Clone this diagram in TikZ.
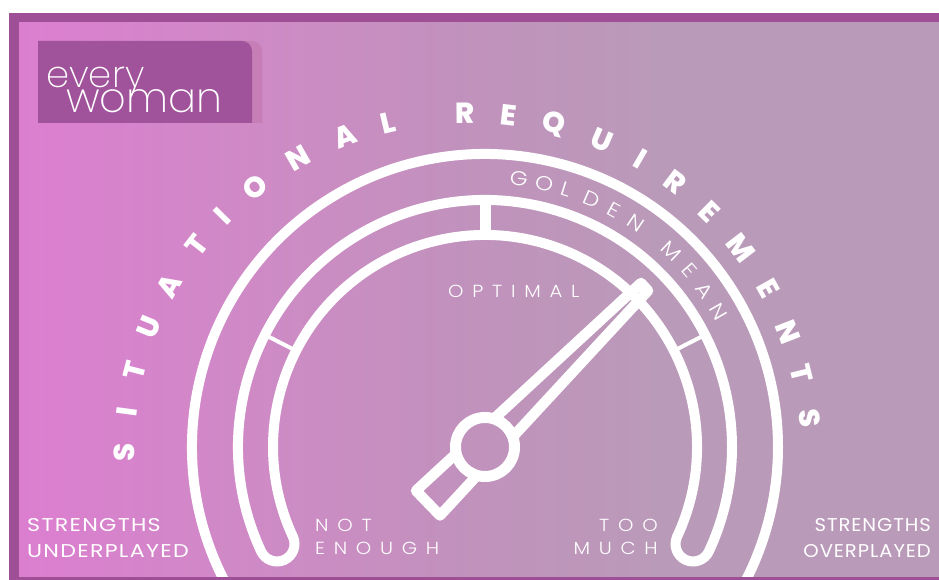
\documentclass[tikz,border=0pt]{standalone}
\usepackage{fontspec}
\setmainfont{Poppins ExtraBold}
\newfontfamily\thinfont{Poppins ExtraLight}
\newfontfamily\plainfont{Poppins}[FakeStretch=1.2,LetterSpace=7]
\newfontfamily\narrowfont{Poppins}[FakeStretch=1.06,LetterSpace=5]
\newfontfamily\widefont{Poppins Light}[FakeStretch=1.12,LetterSpace=50]
\newfontfamily\archfont{Poppins Light}[FakeStretch=1.15]
\usetikzlibrary{positioning}
\definecolor{framepurple}{RGB}{158,79,150}
\definecolor{logopurple}{RGB}{160,83,155}
\definecolor{logoband}{RGB}{199,126,182}
\definecolor{gradleft}{RGB}{220,126,208}
\definecolor{gradquart}{RGB}{207,138,198}
\definecolor{gradmid}{RGB}{192,146,188}
\definecolor{gradright}{RGB}{186,154,185}
\pgfdeclarehorizontalshading{backgrad}{100bp}{color(0bp)=(gradleft); color(25bp)=(gradleft); color(37.5bp)=(gradquart); color(50bp)=(gradmid); color(60bp)=(gradright); color(100bp)=(gradright)}
\tikzset{
  gaugeline/.style={draw=white, line width=10pt},
  tagtext/.style={text=white, inner sep=0pt, font=\fontsize{18.5}{20}\selectfont\plainfont},
  tagright/.style={text=white, inner sep=0pt, font=\fontsize{18.5}{20}\selectfont\narrowfont},
  widetext/.style={text=white, inner sep=0pt, font=\fontsize{17.5}{18}\selectfont\widefont},
  archeavy/.style={text=white, inner sep=0pt, font=\fontsize{29}{29}\selectfont},
  arclight/.style={text=white, inner sep=0pt, font=\fontsize{20}{20}\selectfont\archfont}
}
\begin{document}
\begin{tikzpicture}[x=1pt,y=1pt]
\useasboundingbox (0,0) rectangle (939,580);
\fill[framepurple] (9,0) rectangle (939,567);
\shade[shading=backgrad] (19,3) rectangle (939,557);
% logo
\fill[logoband] (200,457) -- (262,457) [rounded corners=10pt] -- (262,539) [sharp corners] -- (200,539) -- cycle;
\fill[logopurple] (38,457) -- (252,457) [rounded corners=10pt] -- (252,539) [sharp corners] -- (38,539) -- cycle;
\node[text=white, inner sep=0pt, anchor=base west, font=\fontsize{37}{37}\selectfont\thinfont] (every) at (46,492) {every};
\node[text=white, inner sep=0pt, anchor=base west, font=\fontsize{41.5}{41.5}\selectfont\thinfont] (woman) at (66,467) {woman};
% gauge
\coordinate (hubc) at (485,133);
\coordinate (arcc) at (468,123);
\begin{scope}
\clip (19,3) rectangle (939,557);
\draw[gaugeline] ([shift={(210:293)}]hubc) arc[start angle=210, end angle=-30, radius=293];
\draw[gaugeline] ([shift={(205:247)}]hubc) arc[start angle=205, end angle=-25, radius=247]
  arc[start angle=-25, end angle=-205, radius=17.5]
  arc[start angle=-25, end angle=205, radius=212]
  arc[start angle=25, end angle=-155, radius=17.5] -- cycle;
\end{scope}
\draw[draw=white, line width=11pt] ([shift={(90:212)}]hubc) -- ([shift={(90:247)}]hubc);
\draw[draw=white, line width=4pt] ([shift={(153:212)}]hubc) -- ([shift={(153:247)}]hubc);
\draw[draw=white, line width=4pt] ([shift={(27:212)}]hubc) -- ([shift={(27:247)}]hubc);
% needle
\coordinate (taila) at (416,89.3);
\coordinate (tailb) at (440,64.5);
\coordinate (tipa) at (641,297);
\coordinate (tipb) at (648,289.3);
\begin{scope}[even odd rule]
\clip (0,0) rectangle (939,580) (hubc) circle (30);
\draw[gaugeline, line width=10.5pt, line join=round] (taila) -- (tipa) -- (tipb) -- (tailb) -- cycle;
\end{scope}
\node[circle, draw=white, line width=11pt, minimum size=59pt, inner sep=0pt] (hub) at (hubc) {};
% letters
\foreach \ch/\ang in {S/179.2,I/172.5,T/165.5,U/157.8,A/150.2,T/142,I/135.5,O/128.3,N/119.7,A/111,L/103.5,R/90.5,E/83.3,Q/75.5,U/67,I/60,R/53,E/45.5,M/37.5,E/29.3,N/21.3,T/14,S/6.5}
  \node[archeavy, rotate=\ang-90] at ([shift={(\ang:344)}]arcc) {\ch};
\foreach \ch/\ang in {G/82.8,O/77.3,L/72.4,D/66.8,E/61.5,N/56,M/46.5,E/40.8,A/35.5,N/30.1}
  \node[arclight, rotate=\ang-90] at ([shift={(\ang:270)}]hubc) {\ch};
% labels
\node[widetext, anchor=base west] (optimal) at (448,282) {OPTIMAL};
\node[widetext, anchor=base west] (notw) at (315,48) {NOT};
\node[widetext, anchor=base west] (enough) at (315,25) {ENOUGH};
\node[widetext, anchor=base east] (too) at (658,48) {TOO};
\node[widetext, anchor=base east] (much) at (658,25) {MUCH};
\node[tagtext, anchor=base west] (strengthsl) at (27,48) {STRENGTHS};
\node[tagtext, anchor=base west] (underplayed) at (27,22) {UNDERPLAYED};
\node[tagright, anchor=base east] (strengthsr) at (931,48) {STRENGTHS};
\node[tagright, anchor=base east] (overplayed) at (931,22) {OVERPLAYED};
\end{tikzpicture}
\end{document}
